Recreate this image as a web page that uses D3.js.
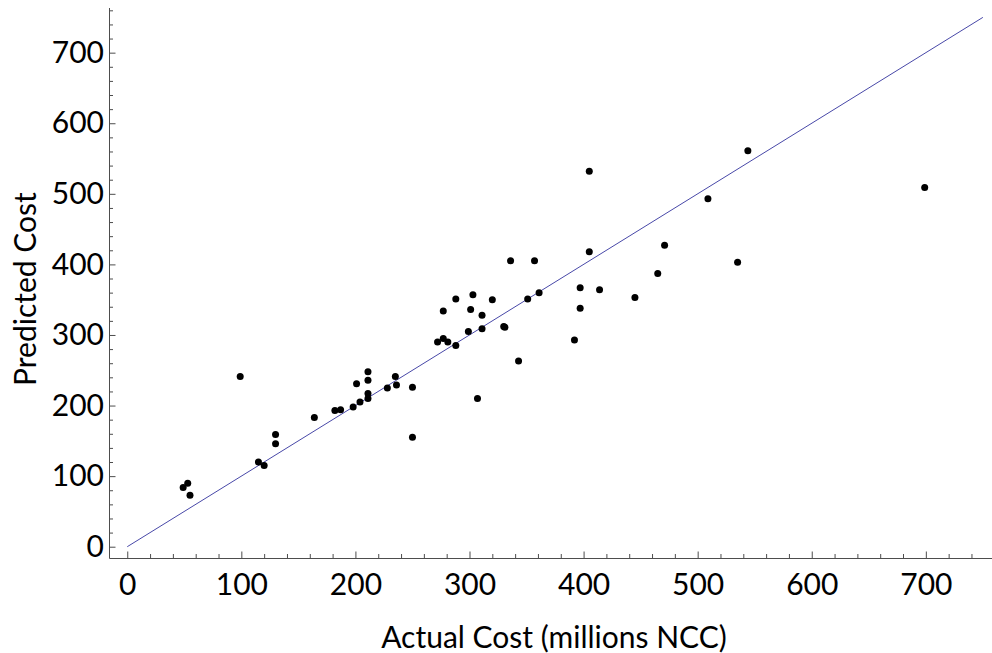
<!DOCTYPE html>
<html>
<head>
<meta charset="utf-8">
<script src="https://cdn.jsdelivr.net/npm/d3@7"></script>
<style>
  body { margin: 0; background: #fff; }
  text { font-family: Lato, "Open Sans", sans-serif; }
</style>
</head>
<body>
<svg id="chart"></svg>
<script>
const width = 992, height = 653;

// actual cost vs predicted cost (millions NCC)
const actual = [49, 53, 55, 99, 115, 120, 130, 130, 164, 182, 187, 198, 204, 201, 211, 211, 211, 211,
  228, 235, 236, 250, 250, 272, 277, 281, 277, 288, 288, 299, 301, 303, 311, 311, 320, 307,
  330, 331, 336, 343, 351, 357, 361, 392, 397, 397, 405, 405, 414, 445, 465, 471, 509, 535, 544, 699];
const predicted = [84, 90, 73, 241, 120, 115, 159, 146, 183, 193, 194, 198, 205, 231, 210, 217, 236, 248,
  225, 241, 229, 226, 155, 290, 295, 290, 334, 351, 285, 305, 336, 357, 328, 309, 350, 210,
  312, 311, 405, 263, 351, 405, 360, 293, 338, 367, 532, 418, 364, 353, 387, 427, 493, 403, 561, 509];
const fitLine = [0, 750];

const xMajor = [0, 100, 200, 300, 400, 500, 600, 700];
const xMinor = d3.range(20, 750, 20).filter(v => v % 100 !== 0);
const yMajor = [0, 100, 200, 300, 400, 500, 600, 700];
const yMinor = d3.range(20, 770, 20).filter(v => v % 100 !== 0);

const points = actual.map((a, i) => ({x: a, y: predicted[i]}));

const svg = d3.select("#chart")
  .attr("width", width)
  .attr("height", height);

const margin = {left: 109, right: 0, top: 7.5, bottom: 95};
const fontSize = 30;

const x = d3.scaleLinear()
  .domain([-16, 758])
  .range([margin.left, width - margin.right]);

const y = d3.scaleLinear()
  .domain([-16, 764])
  .range([height - margin.bottom, margin.top]);

const axisColor = "#4d4d4d";

// x axis: minor ticks first, then major ticks with labels
const gx = svg.append("g")
  .attr("transform", `translate(0,${y(-16)})`);

gx.append("g")
  .call(d3.axisBottom(x).tickValues(xMinor).tickFormat("").tickSizeInner(-4).tickSizeOuter(0))
  .call(g => g.select(".domain").remove());

gx.append("g")
  .call(d3.axisBottom(x).tickValues(xMajor).tickSizeInner(-6.5).tickSizeOuter(0).tickPadding(16))
  .call(g => g.selectAll("text").attr("font-size", fontSize).attr("fill", "#000")
    .style("font-family", "Lato, 'Open Sans', sans-serif"));

// y axis
const gy = svg.append("g")
  .attr("transform", `translate(${x(-16)},0)`);

gy.append("g")
  .call(d3.axisLeft(y).tickValues(yMinor).tickFormat("").tickSizeInner(-4).tickSizeOuter(0))
  .call(g => g.select(".domain").remove());

gy.append("g")
  .call(d3.axisLeft(y).tickValues(yMajor).tickSizeInner(-6.5).tickSizeOuter(0).tickPadding(5))
  .call(g => g.selectAll("text").attr("font-size", fontSize).attr("fill", "#000")
    .style("font-family", "Lato, 'Open Sans', sans-serif"));

svg.selectAll(".domain, .tick line").attr("stroke", axisColor);

// axis titles
svg.append("text")
  .attr("x", 554)
  .attr("y", 648)
  .attr("text-anchor", "middle")
  .attr("font-size", fontSize)
  .text("Actual Cost (millions NCC)");

svg.append("text")
  .attr("transform", `translate(36,${y(365)}) rotate(-90)`)
  .attr("text-anchor", "middle")
  .attr("font-size", fontSize)
  .text("Predicted Cost");

// reference line y = x
svg.append("line")
  .attr("x1", x(fitLine[0]))
  .attr("y1", y(fitLine[0]))
  .attr("x2", x(fitLine[1]))
  .attr("y2", y(fitLine[1]))
  .attr("stroke", "#4848a8")
  .attr("stroke-width", 1);

// points
svg.append("g")
  .selectAll("circle")
  .data(points)
  .join("circle")
  .attr("cx", d => x(d.x))
  .attr("cy", d => y(d.y))
  .attr("r", 3.5)
  .attr("fill", "#000");
</script>
</body>
</html>
